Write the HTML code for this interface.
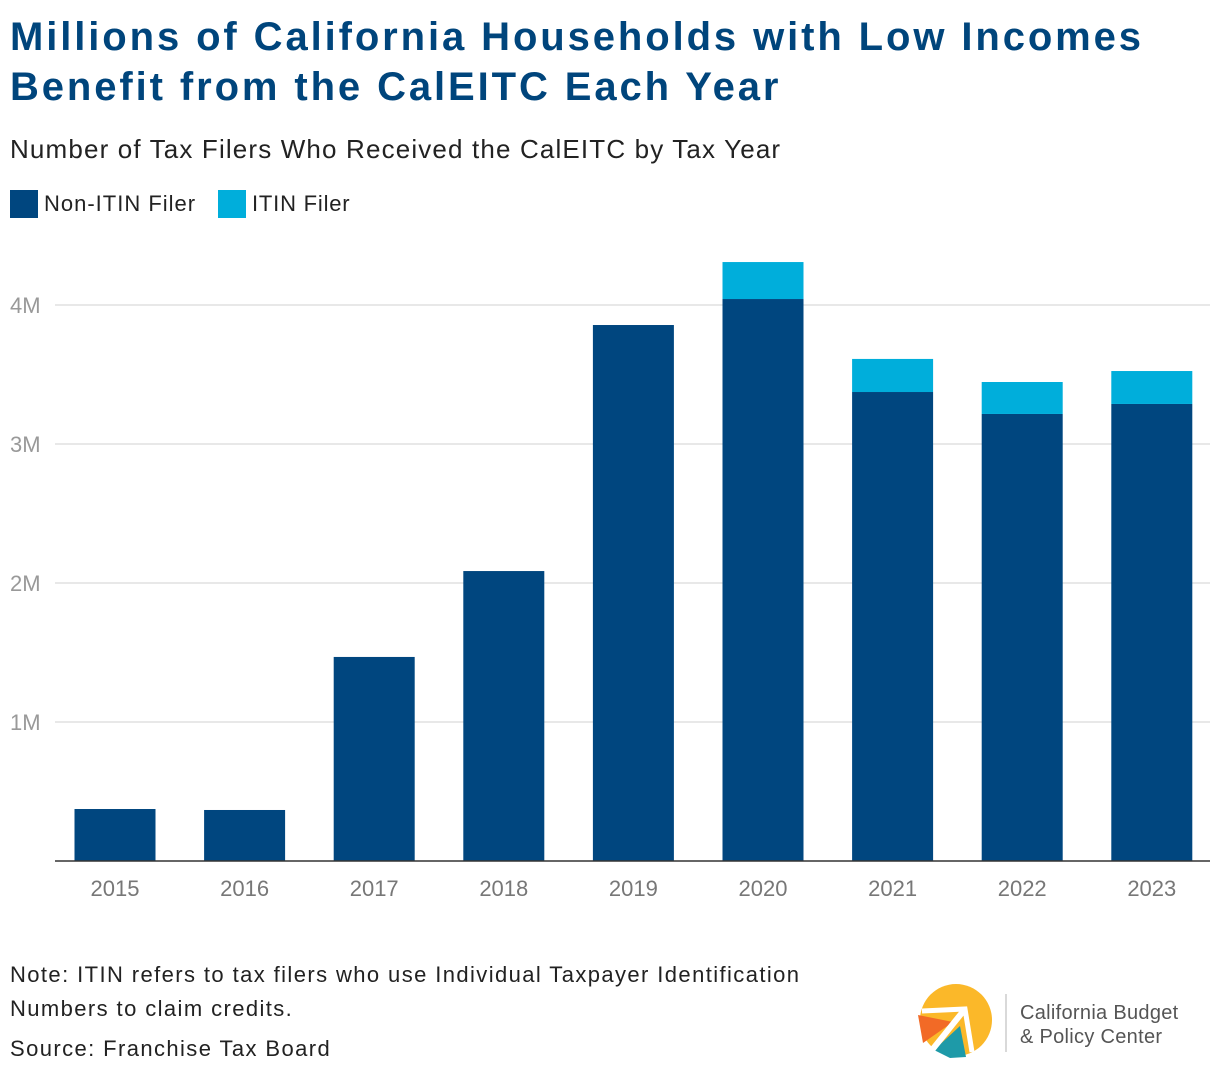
<!DOCTYPE html>
<html><head><meta charset="utf-8"><style>
body{margin:0;width:1220px;height:1080px;background:#fff;font-family:"Liberation Sans",sans-serif;position:relative;overflow:hidden}
.abs{position:absolute}
</style></head><body>
<div class="abs" style="left:10px;top:12px;font-size:40px;font-weight:bold;color:#00457c;line-height:50px;letter-spacing:2.9px">Millions of California Households with Low Incomes<br>Benefit from the CalEITC Each Year</div>
<div class="abs" style="left:10px;top:134px;font-size:26px;color:#222;letter-spacing:1.15px">Number of Tax Filers Who Received the CalEITC by Tax Year</div>
<div class="abs" style="left:10px;top:190px;font-size:22px;color:#222;display:flex;align-items:center;letter-spacing:1px"><span style="display:inline-block;width:28px;height:28px;background:#00467f;margin-right:6px"></span>Non-ITIN Filer</div>
<div class="abs" style="left:218px;top:190px;font-size:22px;color:#222;display:flex;align-items:center;letter-spacing:0.8px"><span style="display:inline-block;width:28px;height:28px;background:#00aedb;margin-right:6px"></span>ITIN Filer</div>
<svg class="abs" style="left:0;top:0" width="1220" height="930" id="chart"></svg>
<div class="abs" style="left:10px;top:958px;font-size:22px;color:#222;line-height:34px;letter-spacing:1.4px">Note: ITIN refers to tax filers who use Individual Taxpayer Identification<br>Numbers to claim credits.</div>
<div class="abs" style="left:10px;top:1036px;font-size:22px;color:#222;letter-spacing:1.4px">Source: Franchise Tax Board</div>
<svg class="abs" style="left:910px;top:980px" width="300" height="90">
<circle cx="46" cy="40" r="36" fill="#fbb829"/>
<polygon points="8,35 43,42 13,63" fill="#f26a26"/>
<polygon points="24,70 50,46 56,77 40,78" fill="#1e9aa8"/>
<polyline points="12,31 55,29 62,72" fill="none" stroke="#fff" stroke-width="5"/>
<line x1="55" y1="29" x2="22" y2="70" stroke="#fff" stroke-width="6"/>
<line x1="96" y1="14" x2="96" y2="72" stroke="#ccc" stroke-width="1.5"/>
<text x="110" y="39" font-size="20" fill="#555" font-family="Liberation Sans, sans-serif" letter-spacing="0.3">California Budget</text>
<text x="110" y="63" font-size="20" fill="#555" font-family="Liberation Sans, sans-serif" letter-spacing="0.3">&amp; Policy Center</text>
</svg>
<script>
const years=["2015","2016","2017","2018","2019","2020","2021","2022","2023"];
const nonItin=[0.374,0.367,1.468,2.086,3.856,4.043,3.374,3.216,3.288];
const itin=[0,0,0,0,0,0.266,0.238,0.230,0.237];
const ticks=[1,2,3,4];
const tickLabels=["1M","2M","3M","4M"];
const svg=document.getElementById('chart');
const NS='http://www.w3.org/2000/svg';
const y=v=>861-v*139;
const band=129.6,x0=50.2;
const xc=i=>x0+band*(i+0.5);
function mk(t,a){const e=document.createElementNS(NS,t);for(const k in a)e.setAttribute(k,a[k]);svg.appendChild(e);return e;}
ticks.forEach((t,i)=>{
 const g=mk('line',{x1:55,x2:1210,y1:y(t),y2:y(t),stroke:'#e0e0e0','stroke-width':1.5});
 
 
 const l=mk('text',{x:10,y:y(t)+8,'font-size':22,fill:'#999','font-family':'Liberation Sans, sans-serif'});
 l.textContent=tickLabels[i];
 
 
});
years.forEach((yr,i)=>{
 const b=mk('rect',{x:xc(i)-40.5,width:81,y:y(nonItin[i]),height:y(0)-y(nonItin[i]),fill:'#00467f'});
 
 
 if(itin[i]>0){
  const t=nonItin[i]+itin[i];
  const c=mk('rect',{x:xc(i)-40.5,width:81,y:y(t),height:y(nonItin[i])-y(t),fill:'#00aedb'});
  
  
 }
 const l=mk('text',{x:xc(i),y:896,'font-size':22,fill:'#777','text-anchor':'middle','font-family':'Liberation Sans, sans-serif'});
 l.textContent=yr;
 
 
});
const ax=mk('line',{x1:55,x2:1210,y1:861,y2:861,stroke:'#333','stroke-width':1.5});


</script>
</body></html>
